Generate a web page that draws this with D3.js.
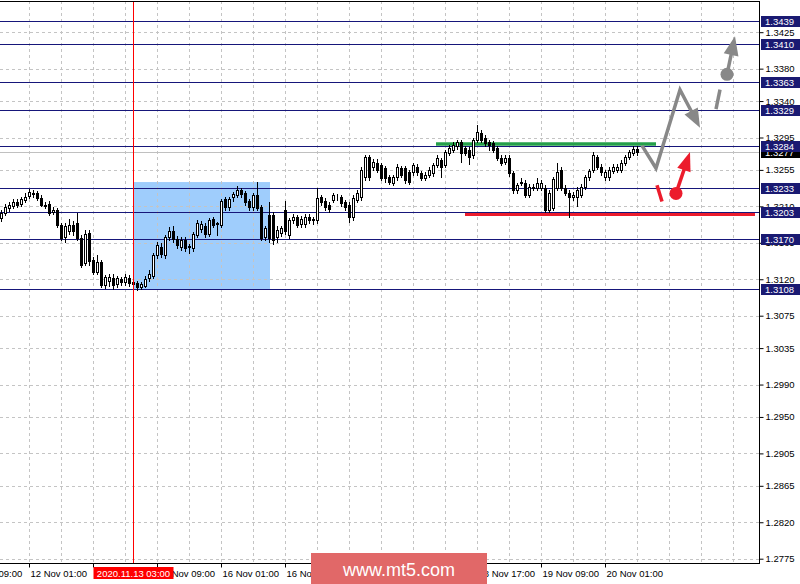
<!DOCTYPE html>
<html><head><meta charset="utf-8">
<script src="https://cdn.jsdelivr.net/npm/d3@7/dist/d3.min.js"></script>
<style>
html,body{margin:0;padding:0;background:#fff;}
svg{display:block;}
text{font-family:"Liberation Sans",Arial,sans-serif;}
</style></head>
<body><svg id="chart" width="800" height="584"></svg>
<script>
// ---- DATA (GBPUSD H1) ----
const opens = [
1.3196,1.3202,1.3208,1.3211,1.3215,1.3213,1.3218,1.3223,1.3225,1.3226,
1.3220,1.3212,1.3213,1.3203,1.3205,1.3187,1.3172,1.3179,1.3187,1.3190,
1.3171,1.3140,1.3177,1.3144,1.3129,1.3141,1.3113,1.3118,1.3122,1.3114,
1.3120,1.3116,1.3122,1.3116,1.3115,1.3110,1.3112,1.3121,1.3124,1.3150,
1.3160,1.3150,1.3172,1.3180,1.3170,1.3160,1.3168,1.3160,1.3158,1.3175,
1.3182,1.3186,1.3176,1.3194,1.3188,1.3187,1.3219,1.3209,1.3221,1.3224,
1.3230,1.3226,1.3217,1.3209,1.3224,1.3209,1.3172,1.3199,1.3199,1.3172,
1.3177,1.3206,1.3175,1.3193,1.3197,1.3188,1.3188,1.3197,1.3193,1.3193,
1.3221,1.3217,1.3212,1.3218,1.3222,1.3222,1.3215,1.3212,1.3197,1.3218,
1.3222,1.3246,1.3271,1.3259,1.3264,1.3261,1.3257,1.3246,1.3239,1.3246,
1.3257,1.3257,1.3252,1.3252,1.3259,1.3251,1.3245,1.3249,1.3251,1.3261,
1.3267,1.3261,1.3276,1.3280,1.3284,1.3289,1.3282,1.3280,1.3273,1.3292,
1.3300,1.3294,1.3289,1.3288,1.3282,1.3270,1.3265,1.3270,1.3251,1.3230,
1.3239,1.3239,1.3224,1.3234,1.3233,1.3233,1.3233,1.3206,1.3208,1.3233,
1.3255,1.3233,1.3227,1.3221,1.3222,1.3224,1.3234,1.3246,1.3255,1.3271,
1.3259,1.3246,1.3246,1.3254,1.3255,1.3255,1.3264,1.3271,1.3276,1.3281];
const highs = [
1.3206,1.3213,1.3215,1.3219,1.3219,1.3222,1.3226,1.3232,1.3230,1.3229,
1.3224,1.3215,1.3216,1.3209,1.3208,1.3190,1.3190,1.3195,1.3192,1.3202,
1.3175,1.3181,1.3181,1.3147,1.3150,1.3144,1.3125,1.3126,1.3126,1.3124,
1.3123,1.3127,1.3125,1.3119,1.3118,1.3117,1.3124,1.3131,1.3152,1.3166,
1.3165,1.3175,1.3185,1.3186,1.3173,1.3172,1.3172,1.3164,1.3178,1.3193,
1.3192,1.3189,1.3196,1.3197,1.3191,1.3219,1.3221,1.3222,1.3228,1.3235,
1.3233,1.3229,1.3219,1.3226,1.3240,1.3212,1.3186,1.3215,1.3203,1.3186,
1.3186,1.3216,1.3196,1.3200,1.3199,1.3198,1.3200,1.3200,1.3197,1.3233,
1.3224,1.3220,1.3215,1.3227,1.3225,1.3224,1.3218,1.3215,1.3224,1.3230,
1.3258,1.3273,1.3273,1.3269,1.3268,1.3264,1.3260,1.3249,1.3249,1.3262,
1.3260,1.3260,1.3255,1.3264,1.3262,1.3254,1.3252,1.3258,1.3264,1.3273,
1.3270,1.3280,1.3286,1.3289,1.3292,1.3292,1.3285,1.3283,1.3295,1.3310,
1.3304,1.3298,1.3292,1.3291,1.3285,1.3273,1.3273,1.3273,1.3254,1.3239,
1.3245,1.3242,1.3237,1.3237,1.3245,1.3242,1.3236,1.3230,1.3246,1.3264,
1.3258,1.3236,1.3230,1.3228,1.3234,1.3237,1.3249,1.3256,1.3277,1.3274,
1.3262,1.3255,1.3258,1.3262,1.3262,1.3267,1.3274,1.3280,1.3284,1.3284];
const lows = [
1.3192,1.3199,1.3204,1.3208,1.3209,1.3210,1.3215,1.3220,1.3222,1.3218,
1.3210,1.3208,1.3199,1.3200,1.3185,1.3168,1.3166,1.3176,1.3175,1.3168,
1.3135,1.3137,1.3138,1.3126,1.3126,1.3110,1.3109,1.3112,1.3108,1.3111,
1.3113,1.3113,1.3112,1.3111,1.3107,1.3108,1.3110,1.3118,1.3122,1.3146,
1.3147,1.3146,1.3168,1.3166,1.3158,1.3156,1.3155,1.3153,1.3155,1.3172,
1.3178,1.3172,1.3173,1.3184,1.3175,1.3185,1.3206,1.3206,1.3217,1.3222,
1.3222,1.3212,1.3205,1.3205,1.3205,1.3168,1.3168,1.3166,1.3164,1.3166,
1.3174,1.3176,1.3171,1.3190,1.3184,1.3185,1.3185,1.3190,1.3188,1.3190,
1.3212,1.3206,1.3203,1.3215,1.3218,1.3211,1.3206,1.3191,1.3193,1.3215,
1.3218,1.3243,1.3243,1.3255,1.3252,1.3242,1.3240,1.3237,1.3236,1.3243,
1.3246,1.3239,1.3237,1.3249,1.3249,1.3242,1.3242,1.3246,1.3248,1.3258,
1.3246,1.3258,1.3273,1.3277,1.3281,1.3265,1.3273,1.3262,1.3270,1.3289,
1.3289,1.3284,1.3280,1.3277,1.3267,1.3261,1.3262,1.3248,1.3227,1.3227,
1.3236,1.3221,1.3221,1.3230,1.3230,1.3230,1.3203,1.3203,1.3205,1.3230,
1.3230,1.3224,1.3197,1.3218,1.3210,1.3221,1.3231,1.3243,1.3252,1.3256,
1.3249,1.3243,1.3243,1.3251,1.3252,1.3252,1.3261,1.3268,1.3273,1.3274];
const closes = [
1.3202,1.3209,1.3212,1.3215,1.3212,1.3219,1.3222,1.3228,1.3227,1.3220,
1.3212,1.3211,1.3202,1.3206,1.3187,1.3171,1.3186,1.3187,1.3179,1.3171,
1.3138,1.3176,1.3142,1.3129,1.3141,1.3113,1.3123,1.3123,1.3113,1.3121,
1.3116,1.3123,1.3115,1.3114,1.3110,1.3114,1.3120,1.3127,1.3150,1.3162,
1.3151,1.3172,1.3180,1.3170,1.3162,1.3168,1.3158,1.3161,1.3176,1.3190,
1.3188,1.3176,1.3193,1.3187,1.3189,1.3217,1.3209,1.3219,1.3225,1.3230,
1.3225,1.3215,1.3209,1.3224,1.3208,1.3171,1.3183,1.3171,1.3168,1.3181,
1.3183,1.3179,1.3193,1.3197,1.3187,1.3195,1.3197,1.3193,1.3194,1.3220,
1.3215,1.3209,1.3207,1.3224,1.3221,1.3214,1.3209,1.3197,1.3220,1.3227,
1.3255,1.3271,1.3246,1.3265,1.3255,1.3245,1.3245,1.3240,1.3246,1.3259,
1.3249,1.3243,1.3240,1.3261,1.3252,1.3245,1.3249,1.3255,1.3261,1.3270,
1.3259,1.3277,1.3282,1.3286,1.3289,1.3276,1.3276,1.3271,1.3292,1.3302,
1.3292,1.3288,1.3286,1.3280,1.3270,1.3264,1.3270,1.3251,1.3230,1.3236,
1.3240,1.3224,1.3234,1.3233,1.3239,1.3239,1.3206,1.3227,1.3244,1.3252,
1.3233,1.3227,1.3221,1.3224,1.3230,1.3234,1.3246,1.3254,1.3273,1.3259,
1.3252,1.3252,1.3255,1.3259,1.3259,1.3264,1.3271,1.3277,1.3281,1.3277];

const priceTicks = [1.3425,1.3380,1.3340,1.3295,1.3255,1.3210,1.3165,1.3120,1.3075,1.3035,1.2990,1.2950,1.2905,1.2865,1.2820,1.2775];
const levels = [1.3439,1.3410,1.3363,1.3329,1.3284,1.3233,1.3203,1.3170,1.3108];
const currentPrice = 1.3277;
const timeTickBars = [-9,7,23,39,55,71,87,103,119,135,151];
// labels fully hidden under the crosshair tag / watermark in the picture are left empty
const timeTickLabels = ["11 Nov 09:00","12 Nov 01:00","","13 Nov 09:00","16 Nov 01:00","16 Nov 17:00","","","18 Nov 17:00","19 Nov 09:00","20 Nov 01:00"];
const crosshairBar = 33;
const crosshairLabel = "2020.11.13 03:00";
const boxRange = {bars:[33,67.25], prices:[1.3240,1.3108]};
const greenLine = {bars:[108.75,163.75], price:1.3287};
const redLine = {bars:[116,188.5], price:1.3200};
const grayPath = [[160.25,1.3285],[163.75,1.3257],[169.75,1.3354],[174.75,1.3307]];
const grayDash = [[178.75,1.3330],[179.75,1.3354]];
const grayDot = [181.5,1.3373], grayTip = [183.5,1.3420];
const redDash = [[164,1.3236],[165.25,1.3216]];
const redDot = [168.75,1.3226], redTip = [172.25,1.3277];

// ---- LAYOUT ----
const W=800,H=584, plotR=759, plotB=563, plotT=1;
const svg = d3.select("#chart");
const x = d3.scaleLinear().domain([0,190]).range([1,761]);
const y = d3.scaleLinear().domain([1.2775,1.3439]).range([558.7,20.86]);
const navy="#16167a", gridC="#c4c4c4";

svg.append("rect").attr("width",W).attr("height",H).attr("fill","#fff");

// rectangle object (background)
svg.append("rect")
  .attr("x",x(boxRange.bars[0])).attr("y",y(boxRange.prices[0]))
  .attr("width",x(boxRange.bars[1])-x(boxRange.bars[0]))
  .attr("height",y(boxRange.prices[1])-y(boxRange.prices[0]))
  .attr("fill","#9fcdfc");

// grid
const grid = svg.append("g").attr("stroke",gridC).attr("stroke-dasharray","3,3").attr("shape-rendering","crispEdges");
priceTicks.forEach(p=>{
  const yy=Math.round(y(p))+0.5;
  grid.append("line").attr("x1",0).attr("x2",plotR).attr("y1",yy).attr("y2",yy);
});
d3.range(7,190,8).forEach(b=>{
  const xx=x(b)+0.5; if(xx>=plotR) return;
  grid.append("line").attr("x1",xx).attr("x2",xx).attr("y1",plotT).attr("y2",plotB);
});

// current price line
svg.append("line").attr("x1",0).attr("x2",plotR)
  .attr("y1",Math.round(y(currentPrice))+0.5).attr("y2",Math.round(y(currentPrice))+0.5)
  .attr("stroke","#c0c0c0").attr("shape-rendering","crispEdges");

// red + green thick lines
svg.append("line").attr("x1",x(redLine.bars[0])).attr("x2",x(redLine.bars[1]))
  .attr("y1",y(redLine.price)).attr("y2",y(redLine.price))
  .attr("stroke","#ec1c2c").attr("stroke-width",3);
svg.append("line").attr("x1",x(greenLine.bars[0])).attr("x2",x(greenLine.bars[1]))
  .attr("y1",y(greenLine.price)).attr("y2",y(greenLine.price))
  .attr("stroke","#25a04a").attr("stroke-width",3.5);

// navy levels
levels.forEach(p=>{
  const yy=Math.round(y(p))+0.5;
  svg.append("line").attr("x1",0).attr("x2",plotR).attr("y1",yy).attr("y2",yy)
    .attr("stroke",navy).attr("stroke-width",1).attr("shape-rendering","crispEdges");
});

// candles
const data = opens.map((o,i)=>({i,o,h:highs[i],l:lows[i],c:closes[i]}));
const cg = svg.append("g").attr("shape-rendering","crispEdges");
data.forEach(d=>{
  const cx=Math.round(x(d.i));
  cg.append("line").attr("x1",cx+0.5).attr("x2",cx+0.5)
    .attr("y1",Math.round(y(d.h))).attr("y2",Math.round(y(d.l))+1).attr("stroke","#000");
  const top=Math.round(y(Math.max(d.o,d.c))), bot=Math.round(y(Math.min(d.o,d.c)));
  cg.append("rect").attr("x",cx-0.5).attr("y",top+0.5)
    .attr("width",2).attr("height",Math.max(bot-top,0))
    .attr("fill",d.c>=d.o?"#fff":"#000").attr("stroke","#000");
});

// crosshair
svg.append("line").attr("x1",x(crosshairBar)+0.5).attr("x2",x(crosshairBar)+0.5)
  .attr("y1",plotT).attr("y2",plotB).attr("stroke","#f00").attr("shape-rendering","crispEdges");

// annotations
const P = d=>[x(d[0]),y(d[1])];
function head(from,to,color,len,half){
  const dx=to[0]-from[0], dy=to[1]-from[1], L=Math.hypot(dx,dy), ux=dx/L, uy=dy/L;
  const bx=to[0]-ux*len, by=to[1]-uy*len;
  svg.append("path").attr("d",`M${to[0]},${to[1]}L${bx-uy*half},${by+ux*half}L${bx+uy*half},${by-ux*half}Z`).attr("fill",color);
  return [to[0]-ux*len*0.7, to[1]-uy*len*0.7];
}
const gp = grayPath.map(P);
const gEnd = head(gp[gp.length-2],gp[gp.length-1],"#888",19,7.5);
svg.append("path").attr("d",d3.line()([...gp.slice(0,-1),gEnd])).attr("fill","none")
  .attr("stroke","#888").attr("stroke-width",3.5).attr("stroke-linejoin","miter");
svg.append("path").attr("d",d3.line()(grayDash.map(P))).attr("stroke","#888").attr("stroke-width",3.5);
const gd=P(grayDot), gt=P(grayTip);
const gE=head(gd,gt,"#888",19,7.5);
svg.append("line").attr("x1",gd[0]).attr("y1",gd[1]).attr("x2",gE[0]).attr("y2",gE[1]).attr("stroke","#888").attr("stroke-width",3.5);
svg.append("circle").attr("cx",gd[0]).attr("cy",gd[1]).attr("r",6.5).attr("fill","#888");

svg.append("path").attr("d",d3.line()(redDash.map(P))).attr("stroke","#ec1c2c").attr("stroke-width",3.5);
const rd=P(redDot), rt=P(redTip);
const rE=head(rd,rt,"#ec1c2c",19,7);
svg.append("line").attr("x1",rd[0]).attr("y1",rd[1]).attr("x2",rE[0]).attr("y2",rE[1]).attr("stroke","#ec1c2c").attr("stroke-width",3.5);
svg.append("circle").attr("cx",rd[0]).attr("cy",rd[1]).attr("r",6.5).attr("fill","#ec1c2c");

// borders
const bd = svg.append("g").attr("stroke","#000").attr("shape-rendering","crispEdges");
bd.append("line").attr("x1",0).attr("x2",plotR+0.5).attr("y1",plotT+0.5).attr("y2",plotT+0.5);
bd.append("line").attr("x1",plotR+0.5).attr("x2",plotR+0.5).attr("y1",plotT).attr("y2",plotB+1);
bd.append("line").attr("x1",0).attr("x2",plotR+0.5).attr("y1",plotB+0.5).attr("y2",plotB+0.5);

// axes
const fs="9.5px";
const yAxis = svg.append("g").attr("transform",`translate(${plotR+0.5},0)`)
  .call(d3.axisRight(y).tickValues(priceTicks).tickFormat(d3.format(".4f")).tickSize(4).tickPadding(2));
yAxis.select(".domain").remove();
yAxis.selectAll(".tick line").attr("stroke","#000");
yAxis.selectAll("text").attr("fill","#000").style("font-size",fs).style("font-family","Liberation Sans");

const xAxis = svg.append("g").attr("transform",`translate(0,${plotB+0.5})`)
  .call(d3.axisBottom(x).tickValues(timeTickBars).tickFormat((d,i)=>timeTickLabels[i]).tickSize(4).tickPadding(3));
xAxis.select(".domain").remove();
xAxis.selectAll(".tick").attr("transform",d=>`translate(${x(d)+0.5},0)`);
xAxis.selectAll(".tick line").attr("stroke","#000");
xAxis.selectAll("text").attr("text-anchor","start").attr("x",1).attr("fill","#000")
  .style("font-size",fs).style("font-family","Liberation Sans");

// level labels
function tag(p,fill){
  const yy=y(p);
  svg.append("rect").attr("x",761).attr("y",Math.round(yy)-5).attr("width",39).attr("height",11).attr("fill",fill);
  svg.append("text").attr("x",765).attr("y",Math.round(yy)+4).attr("fill","#fff")
    .style("font-size",fs).text(d3.format(".4f")(p));
}
tag(currentPrice,"#000");
levels.forEach(p=>tag(p,"#1a1a72"));

// crosshair time label
const cxp=x(crosshairBar)+0.5;
svg.append("rect").attr("x",cxp-40).attr("y",567).attr("width",80).attr("height",12).attr("fill","#f00");
svg.append("text").attr("x",cxp).attr("y",577).attr("text-anchor","middle").attr("fill","#fff")
  .style("font-size",fs).text(crosshairLabel);

// watermark
svg.append("rect").attr("x",311).attr("y",553).attr("width",176).attr("height",31).attr("fill","#e16868");
svg.append("text").attr("x",399).attr("y",576).attr("text-anchor","middle").attr("fill","#fff")
  .style("font-size","18px").text("www.mt5.com");
</script></body></html>
